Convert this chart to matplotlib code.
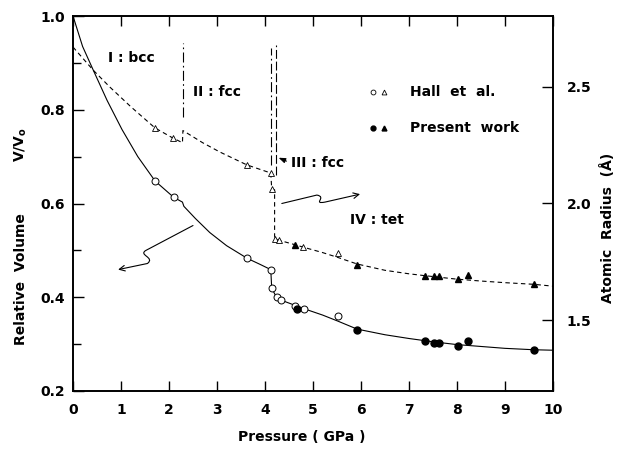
import matplotlib
matplotlib.use('Agg')
import matplotlib.pyplot as plt
from matplotlib.path import Path
from matplotlib.patches import FancyArrowPatch

plt.rcParams['font.family'] = ['DejaVu Sans']
plt.rcParams['font.weight'] = 'bold'
plt.rcParams['mathtext.fontset'] = 'custom'
plt.rcParams['mathtext.rm'] = 'DejaVu Sans:bold'
plt.rcParams['mathtext.it'] = 'DejaVu Sans:bold'
plt.rcParams['mathtext.bf'] = 'DejaVu Sans:bold'

# relative volume V/V0 (left axis)
vol_curve_p = [0, 0.2, 0.42, 0.71, 1.02, 1.35, 1.71, 2.1, 2.28, 2.31, 2.55, 2.85, 3.2, 3.63, 3.9, 4.12,
               4.14, 4.24, 4.33, 4.62, 4.8, 5.2, 5.52, 5.92, 6.5, 7.0, 7.5, 8.0, 8.5, 9.0, 9.6, 10.0]
vol_curve_v = [1.0, 0.935, 0.885, 0.82, 0.758, 0.70, 0.648, 0.613, 0.603, 0.594, 0.568, 0.538, 0.51, 0.483, 0.47, 0.459,
               0.419, 0.400, 0.394, 0.383, 0.376, 0.362, 0.349, 0.332, 0.320, 0.312, 0.305, 0.299, 0.295, 0.291, 0.288, 0.287]

hall_vol_p = [1.71, 2.1, 3.63, 4.12, 4.14, 4.24, 4.33, 4.62, 4.81, 5.52]
hall_vol_v = [0.647, 0.613, 0.483, 0.459, 0.419, 0.400, 0.395, 0.382, 0.376, 0.359]
pres_vol_p = [4.67, 5.92, 7.33, 7.52, 7.62, 8.02, 8.23, 9.6]
pres_vol_v = [0.376, 0.331, 0.306, 0.303, 0.303, 0.297, 0.307, 0.288]

# atomic radius (right axis)
rad_curve_p = [0, 0.42, 0.77, 1.2, 1.71, 2.08, 2.28, 2.29, 2.7, 3.06, 3.62, 4.12, 4.14, 4.2, 4.2, 4.21,
               4.29, 4.62, 4.8, 5.2, 5.52, 5.92, 6.5, 7.0, 7.33, 8.0, 8.5, 9.0, 9.6, 10.0]
rad_curve_r = [2.67, 2.571, 2.498, 2.415, 2.323, 2.28, 2.26, 2.312, 2.26, 2.22, 2.165, 2.13, 2.062, 2.058, 1.86, 1.848,
               1.842, 1.823, 1.812, 1.789, 1.768, 1.74, 1.713, 1.698, 1.69, 1.675, 1.667, 1.66, 1.653, 1.645]

hall_rad_p = [1.71, 2.08, 3.62, 4.12, 4.14, 4.21, 4.29, 4.8, 5.52]
hall_rad_r = [2.323, 2.28, 2.165, 2.130, 2.062, 1.848, 1.844, 1.814, 1.788]
pres_rad_p = [4.62, 5.92, 7.33, 7.52, 7.62, 8.02, 8.23, 9.6]
pres_rad_r = [1.823, 1.737, 1.690, 1.690, 1.690, 1.677, 1.694, 1.656]

# phase boundaries
bound_x = [2.29, 4.12, 4.23]
bound_top = [0.942, 0.932, 0.938]
bound_bot = [0.784, 0.682, 0.66]
bound_ls = [(0, (9, 3, 1.5, 3)), (0, (9, 3, 1.5, 3)), (0, (8, 2.5))]

fig = plt.figure(figsize=(6.21, 4.5), dpi=100)
ax = fig.add_axes([73/621, 1-391/450, 480/621, 375/450])
ax2 = ax.twinx()

ax.plot(vol_curve_p, vol_curve_v, color='k', lw=0.8)
ax.plot(hall_vol_p, hall_vol_v, 'o', ms=5, mfc='white', mec='k', mew=0.7)
ax.plot(pres_vol_p, pres_vol_v, 'o', ms=5, mfc='k', mec='k')

ax2.plot(rad_curve_p, rad_curve_r, color='k', lw=0.8, ls=(0, (4, 3)))
ax2.plot(hall_rad_p, hall_rad_r, '^', ms=4.5, mfc='white', mec='k', mew=0.6)
ax2.plot(pres_rad_p, pres_rad_r, '^', ms=4.5, mfc='k', mec='k')

for x, t, b, ls in zip(bound_x, bound_top, bound_bot, bound_ls):
    ax.plot([x, x], [b, t], color='k', lw=0.8, ls=ls)

ax.set_xlim(0, 10)
ax.set_ylim(0.2, 1.0)
ax2.set_ylim(1.1957, 2.803)

ax.set_xticks(range(11))
ax.set_xticklabels([str(i) for i in range(11)])
ax.set_yticks([0.2, 0.4, 0.6, 0.8, 1.0])
ax.set_yticklabels(['0.2', '0.4', '0.6', '0.8', '1.0'])
ax.set_yticks([0.3, 0.5, 0.7, 0.9], minor=True)
ax2.set_yticks([1.5, 2.0, 2.5])
ax2.set_yticklabels(['1.5', '2.0', '2.5'])

ax.tick_params(axis='x', direction='in', top=True, length=7, width=1, labelsize=10, pad=9)
ax.tick_params(axis='y', which='major', direction='in', length=8, width=1, labelsize=10, pad=6)
ax.tick_params(axis='y', which='minor', direction='in', length=6, width=1)
ax2.tick_params(axis='y', direction='in', length=8, width=1, labelsize=10, pad=10)
for a in (ax, ax2):
    for s in a.spines.values():
        s.set_linewidth(1.2)

# phase labels
ax.text(1.21, 0.910, 'I : bcc', ha='center', va='center', fontsize=10)
ax.text(2.5, 0.838, 'II : fcc', ha='left', va='center', fontsize=10)
ax.text(4.55, 0.686, 'III : fcc', ha='left', va='center', fontsize=10)
ax.text(5.77, 0.564, 'IV : tet', ha='left', va='center', fontsize=10)
ax.annotate('', xy=(4.23, 0.70), xytext=(4.5, 0.688),
            arrowprops=dict(arrowstyle='-|>,head_length=0.4,head_width=0.15', color='k', lw=0.8))

# legend
ax.plot([6.25], [0.838], 'o', ms=3.5, mfc='white', mec='k', mew=0.6)
ax.plot([6.48], [0.838], '^', ms=3.5, mfc='white', mec='k', mew=0.6)
ax.plot([6.25], [0.761], 'o', ms=3.5, mfc='k', mec='k')
ax.plot([6.48], [0.761], '^', ms=3.5, mfc='k', mec='k')
ax.text(7.02, 0.838, 'Hall  et  al.', ha='left', va='center', fontsize=10)
ax.text(7.02, 0.761, 'Present  work', ha='left', va='center', fontsize=10)

# squiggly arrows pointing to the axes
arrow_a = [(2.5, 0.553), (1.52, 0.50), (1.35, 0.49), (1.72, 0.485), (1.55, 0.472), (0.94, 0.459)]
codes_a = [Path.MOVETO, Path.LINETO, Path.CURVE4, Path.CURVE4, Path.CURVE4, Path.LINETO]
arrow_b = [(4.35, 0.600), (5.08, 0.618), (5.3, 0.614), (4.98, 0.598), (5.25, 0.603), (5.98, 0.620)]
codes_b = [Path.MOVETO, Path.LINETO, Path.CURVE4, Path.CURVE4, Path.CURVE4, Path.LINETO]
for verts, codes in ((arrow_a, codes_a), (arrow_b, codes_b)):
    ax.add_patch(FancyArrowPatch(path=Path(verts, codes), arrowstyle='->,head_length=4,head_width=2',
                                 color='k', lw=0.8))

fig.text(302/621, 1-437/450, 'Pressure ( GPa )', ha='center', va='center', fontsize=10)
fig.text(21/621, 1-279/450, 'Relative  Volume', ha='center', va='center', rotation=90, fontsize=10)
fig.text(21/621, 1-145/450, r'V/V$_\mathrm{o}$', ha='center', va='center', rotation=90, fontsize=10)
fig.text(608/621, 1-228/450, 'Atomic  Radius  (Å)', ha='center', va='center', rotation=90, fontsize=10)

fig.savefig('out.png', dpi=100)
